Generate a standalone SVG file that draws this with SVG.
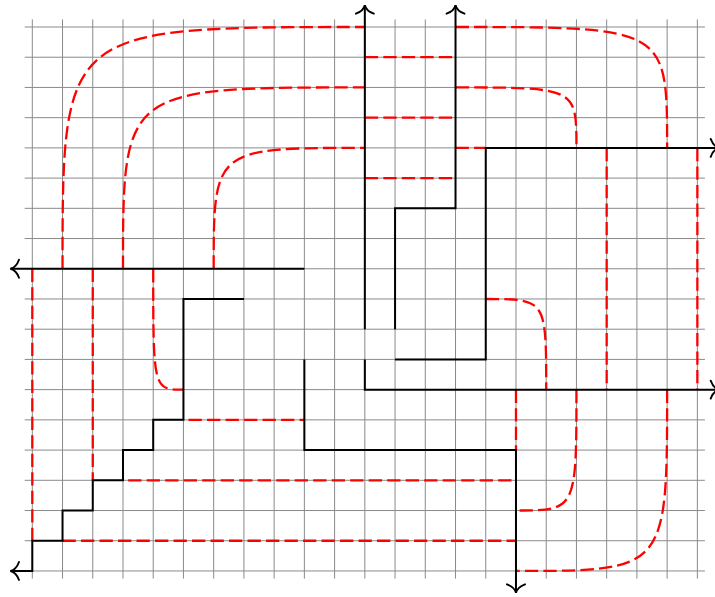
<svg xmlns="http://www.w3.org/2000/svg" width="715" height="597" viewBox="0 0 715 597">
<style>
.grid{fill:none;stroke:#8a8a8a;stroke-width:1}
.red{fill:none;stroke:#ff0000;stroke-width:2.3;stroke-dasharray:13.3 5.2}
.blk{fill:none;stroke:#000;stroke-width:2;stroke-linejoin:miter}
.arr{marker-end:url(#tip)}
</style>
<defs>
<marker id="tip" markerUnits="userSpaceOnUse" viewBox="-11 -11 13 22" markerWidth="13" markerHeight="22" refX="0" refY="0" orient="auto" overflow="visible">
<path d="M -8.5 -9 C -6.5 -3.5 -2.5 -0.6 0 0 C -2.5 0.6 -6.5 3.5 -8.5 9" fill="none" stroke="#000" stroke-width="1.9" stroke-linecap="round"/>
</marker>
</defs>
<rect width="715" height="597" fill="#fff"/>
<g id="grid" class="grid">
<path d="M32.3 19.4V578.6M62.53 19.4V578.6M92.76 19.4V578.6M122.99 19.4V578.6M153.22 19.4V578.6M183.45 19.4V578.6M213.68 19.4V578.6M243.91 19.4V578.6M274.14 19.4V578.6M304.37 19.4V578.6M334.6 19.4V578.6M364.83 19.4V578.6M395.06 19.4V578.6M425.29 19.4V578.6M455.52 19.4V578.6M485.75 19.4V578.6M515.98 19.4V578.6M546.21 19.4V578.6M576.44 19.4V578.6M606.67 19.4V578.6M636.9 19.4V578.6M667.13 19.4V578.6M697.36 19.4V578.6"/>
<path d="M24.7 27H704.9M24.7 57.22H704.9M24.7 87.44H704.9M24.7 117.66H704.9M24.7 147.88H704.9M24.7 178.1H704.9M24.7 208.32H704.9M24.7 238.54H704.9M24.7 268.76H704.9M24.7 298.98H704.9M24.7 329.2H704.9M24.7 359.42H704.9M24.7 389.64H704.9M24.7 419.86H704.9M24.7 450.08H704.9M24.7 480.3H704.9M24.7 510.52H704.9M24.7 540.74H704.9M24.7 570.96H704.9"/>
</g>
<g id="dashed-strands" class="red">
<path id="r1" d="M62.53 268.76C62.53 27 62.53 27 364.83 27"/>
<path id="r2" d="M122.99 268.76C122.99 87.44 122.99 87.44 364.83 87.44"/>
<path id="r3" d="M213.68 268.76C213.68 147.88 213.68 147.88 364.83 147.88"/>
<path id="r4" d="M364.83 57.22H455.52"/>
<path id="r5" d="M364.83 117.66H455.52"/>
<path id="r6" d="M364.83 178.1H455.52"/>
<path id="r7" d="M455.52 27C667.13 27 667.13 27 667.13 147.88"/>
<path id="r8" d="M455.52 87.44C576.44 87.44 576.44 87.44 576.44 147.88"/>
<path id="r9" d="M455.52 147.88H485.75"/>
<path id="r10" d="M606.67 147.88V389.64"/>
<path id="r11" d="M697.36 147.88V389.64"/>
<path id="r12" d="M485.75 298.98C546.21 298.98 546.21 298.98 546.21 389.64"/>
<path id="r13" d="M515.98 389.64V450.08"/>
<path id="r14" d="M576.44 389.64C576.44 510.52 576.44 510.52 515.98 510.52"/>
<path id="r15" d="M667.13 389.64C667.13 570.96 667.13 570.96 515.98 570.96"/>
<path id="r16" d="M122.99 480.3H515.98" stroke-dashoffset="13.3"/>
<path id="r17" d="M62.53 540.74H515.98"/>
<path id="r18" d="M183.45 419.86H304.37" stroke-dashoffset="-5.1"/>
<path id="r19" d="M32.3 268.76V540.74"/>
<path id="r20" d="M92.76 268.76V480.3"/>
<path id="r21" d="M153.22 268.76C153.22 389.64 153.22 389.64 183.45 389.64"/>
</g>
<g id="solid-strands" class="blk">
<path id="b1" class="arr" d="M364.83 329.2V5.2"/>
<path id="b2" class="arr" d="M395.06 329.2V208.32H455.52V5.2"/>
<path id="b3" class="arr" d="M395.06 359.42H485.75V147.88H719.2"/>
<path id="b4" class="arr" d="M364.83 359.42V389.64H719.2"/>
<path id="b5" class="arr" d="M304.37 268.76H10.5"/>
<path id="b6" class="arr" d="M243.91 298.98H183.45V419.86H153.22V450.08H122.99V480.3H92.76V510.52H62.53V540.74H32.3V570.96H10.5"/>
<path id="b7" class="arr" d="M304.37 359.42V450.08H515.98V592.8"/>
</g>
</svg>
